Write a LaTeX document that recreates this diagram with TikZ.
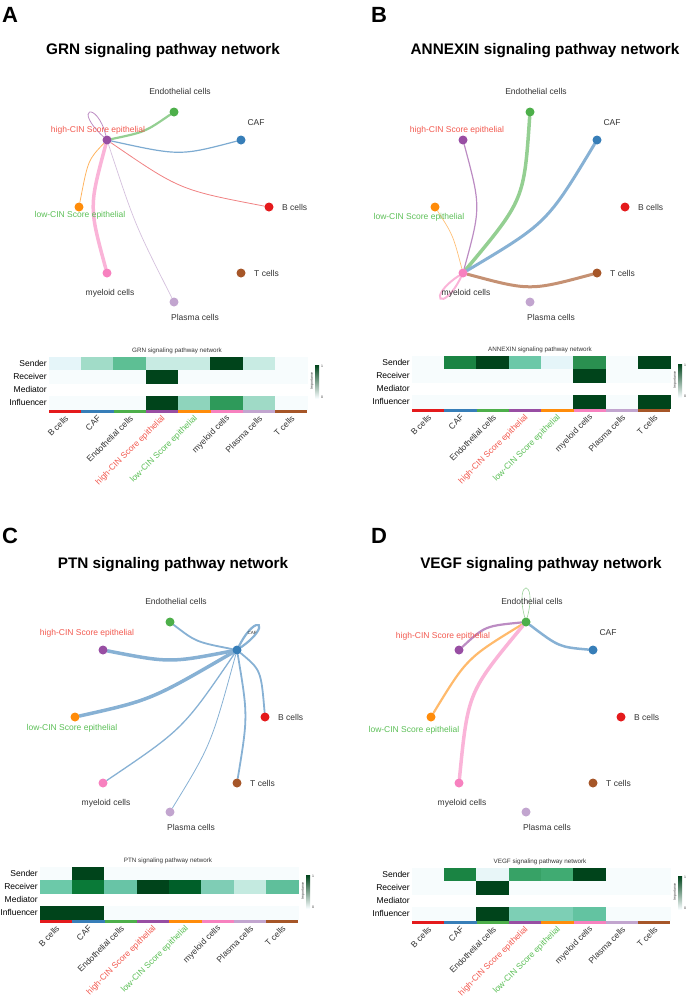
\documentclass[tikz,border=0pt]{standalone}
\usepackage{fontspec}
\setmainfont{Liberation Sans}
\usetikzlibrary{backgrounds}

% cell type colours
\definecolor{cB}{HTML}{E41A1C}
\definecolor{cCAF}{HTML}{377EB8}
\definecolor{cEndo}{HTML}{4DAF4A}
\definecolor{cHigh}{HTML}{984EA3}
\definecolor{cLow}{HTML}{FF8C0A}
\definecolor{cMye}{HTML}{F781BF}
\definecolor{cPla}{HTML}{C2A5CF}
\definecolor{cT}{HTML}{A65628}
\definecolor{hiRed}{HTML}{F2594F}
\definecolor{loGreen}{HTML}{5CBF57}
\definecolor{txt}{HTML}{333333}
% heat scale
\definecolor{g0}{HTML}{F7FCFD}
\definecolor{g4}{HTML}{66C2A4}
\definecolor{g8}{HTML}{00441B}

\tikzset{
  dot/.style={circle, inner sep=0pt, minimum size=9pt},
  lab/.style={font=\fontsize{8.5}{10}\selectfont, text=txt, inner sep=0pt},
  link/.style={line cap=round},
  panel/.style={font=\fontsize{22}{22}\selectfont\bfseries},
  ptitle/.style={font=\fontsize{15.3}{16}\selectfont\bfseries},
  hmtitle/.style={font=\fontsize{6.3}{7}\selectfont, text=txt, inner sep=0pt},
  rowlab/.style={font=\fontsize{8.5}{10}\selectfont, anchor=east, inner sep=0pt},
  ticklab/.style={font=\fontsize{8.5}{10}\selectfont, rotate=45, anchor=east, inner sep=0pt},
  hcell/.style={draw=white, line width=0.4pt},
  leg/.style={font=\fontsize{3.5}{4}\selectfont, text=txt, inner sep=0pt},
}

% the eight cell groups of one network
\newcommand{\cellnodes}[4]{%
  \node[dot, fill=cB] (#1B) at (269,207) {};
  \node[dot, fill=cCAF] (#1CAF) at (241,140) {};
  \node[dot, fill=cEndo] (#1Endo) at (174,112) {};
  \node[dot, fill=cHigh] (#1High) at (107,140) {};
  \node[dot, fill=cLow] (#1Low) at (79,207) {};
  \node[dot, fill=cMye] (#1Mye) at (107,273) {};
  \node[dot, fill=cPla] (#1Pla) at (174,302) {};
  \node[dot, fill=cT] (#1T) at (241,273) {};
  \node[lab, anchor=west] (#1BL) at (282,207) {B cells};
  \node[lab, #4] (#1CAFL) at (256,123) {CAF};
  \node[lab] (#1EndoL) at (180,91) {Endothelial cells};
  \node[lab, text=hiRed] (#1HighL) at (#2) {high-CIN Score epithelial};
  \node[lab, text=loGreen] (#1LowL) at (#3) {low-CIN Score epithelial};
  \node[lab] (#1MyeL) at (110,293) {myeloid cells};
  \node[lab] (#1PlaL) at (195,317) {Plasma cells};
  \node[lab, anchor=west] (#1TL) at (254,273) {T cells};
}

% role heatmap: prefix, title, sender, receiver, influencer
\newcommand{\heatmap}[5]{%
  \node[hmtitle] (#1title) at (128,-6) {#2};
  \foreach \c [count=\i from 0] in {#3} {
    \edef\tmp{\noexpand\definecolor{hc}{HTML}{\c}}\tmp
    \fill[hcell, hc] (\i*32.3,0) rectangle ++(32.3,13);
  }
  \foreach \c [count=\i from 0] in {#4} {
    \edef\tmp{\noexpand\definecolor{hc}{HTML}{\c}}\tmp
    \fill[hcell, hc] (\i*32.3,13) rectangle ++(32.3,13);
  }
  \foreach \c [count=\i from 0] in {#5} {
    \edef\tmp{\noexpand\definecolor{hc}{HTML}{\c}}\tmp
    \fill[hcell, hc] (\i*32.3,39) rectangle ++(32.3,13);
  }
  \node[rowlab] (#1send) at (-2,6.5) {Sender};
  \node[rowlab] (#1recv) at (-2,19.5) {Receiver};
  \node[rowlab] (#1medi) at (-2,32.5) {Mediator};
  \node[rowlab] (#1infl) at (-2,45.5) {Influencer};
  \foreach \col/\name/\tc [count=\i from 0] in {cB/B cells/txt, cCAF/CAF/txt,
      cEndo/Endothelial cells/txt, cHigh/high-CIN Score epithelial/hiRed,
      cLow/low-CIN Score epithelial/loGreen, cMye/myeloid cells/txt,
      cPla/Plasma cells/txt, cT/T cells/txt} {
    \fill[\col] (\i*32.3,52.5) rectangle ++(32.3,3.5);
    \node[ticklab, text=\tc] (#1tick\i) at (\i*32.3+18,60) {\name};
  }
  % legend
  \shade[bottom color=g0, middle color=g4, top color=g8] (266,8) rectangle (270,41);
  \node[leg, anchor=west] (#1one) at (272,9) {1};
  \node[leg, anchor=west] (#1zero) at (272,40) {0};
  \node[leg, rotate=90] (#1imp) at (263,24) {Importance};
}

\begin{document}
\begin{tikzpicture}[x=1pt, y=-1pt]
  \useasboundingbox (0,0) rectangle (694,999);

  \node[panel] (letA) at (10,15) {A};
  \node[panel] (letB) at (379,15) {B};
  \node[panel] (letC) at (10,536) {C};
  \node[panel] (letD) at (379,536) {D};
  \node[ptitle] (titA) at (163,51) {GRN signaling pathway network};
  \node[ptitle] (titB) at (545,51) {ANNEXIN signaling pathway network};
  \node[ptitle] (titC) at (173,565) {PTN signaling pathway network};
  \node[ptitle] (titD) at (541,565) {VEGF signaling pathway network};

  % A: GRN
  \begin{scope}
    \cellnodes{a}{98,130}{80,215}{}
    \begin{scope}[on background layer]
      \draw[link, cEndo!60!white, line width=2.2pt] (aEndo) .. controls (145,132) .. (aHigh);
      \draw[link, cCAF!65!white, line width=1.2pt] (aCAF) .. controls (180,156) .. (aHigh);
      \draw[link, cB!55!white, line width=0.8pt] (aB) .. controls (180,190) .. (aHigh);
      \draw[link, cLow!65!white, line width=0.8pt] (aLow) .. controls (88,160) .. (aHigh);
      \draw[link, cMye!60!white, line width=3.5pt] (aMye) .. controls (89,207) .. (aHigh);
      \draw[link, cPla!70!white, line width=0.7pt] (aPla) .. controls (135,225) .. (aHigh);
      \draw[link, cHigh!65!white, line width=0.8pt] (aHigh) .. controls (72,108) and (97,100) .. (aHigh);
    \end{scope}
  \end{scope}

  % B: ANNEXIN
  \begin{scope}[shift={(356,0)}]
    \cellnodes{b}{101,130}{63,217}{}
    \begin{scope}[on background layer]
      \draw[link, cHigh!65!white, line width=1.2pt] (bHigh) .. controls (125,207) .. (bMye);
      \draw[link, cEndo!60!white, line width=3.5pt] (bEndo) .. controls (168,200) .. (bMye);
      \draw[link, cCAF!60!white, line width=3pt] (bCAF) .. controls (191,223) .. (bMye);
      \draw[link, cLow!55!white, line width=0.7pt] (bLow) .. controls (97,235) .. (bMye);
      \draw[link, cT!65!white, line width=3pt] (bT) .. controls (174,291) .. (bMye);
      \draw[link, cMye!60!white, line width=2pt] (bMye) .. controls (69,298) and (87,314) .. (bMye);
    \end{scope}
  \end{scope}

  % C: PTN
  \begin{scope}[shift={(-4,510)}]
    \cellnodes{c}{91,123}{76,218}{font=\fontsize{4.5}{5}\selectfont}
    \begin{scope}[on background layer, every path/.style={link, cCAF!60!white}]
      \draw[line width=1.8pt] (cCAF) .. controls (200,132) .. (cEndo);
      \draw[line width=3.5pt] (cCAF) .. controls (174,153) .. (cHigh);
      \draw[line width=3.5pt] (cCAF) .. controls (155,190) .. (cLow);
      \draw[line width=1.3pt] (cCAF) .. controls (187,219) .. (cMye);
      \draw[line width=0.8pt] (cCAF) .. controls (215,235) .. (cPla);
      \draw[line width=1.8pt] (cCAF) .. controls (252,206) .. (cT);
      \draw[line width=1.8pt] (cCAF) .. controls (265,160) .. (cB);
      \draw[line width=2.2pt] (cCAF) .. controls (261,101) and (277,115) .. (cCAF);
    \end{scope}
  \end{scope}

  % D: VEGF
  \begin{scope}[shift={(352,510)}]
    \cellnodes{d}{91,126}{62,220}{}
    \begin{scope}[on background layer]
      \draw[link, cHigh!65!white, line width=2.2pt] (dHigh) .. controls (133,116) .. (dEndo);
      \draw[link, cLow!60!white, line width=2.2pt] (dLow) .. controls (115,148) .. (dEndo);
      \draw[link, cMye!60!white, line width=3.5pt] (dMye) .. controls (116,182) .. (dEndo);
      \draw[link, cCAF!60!white, line width=2.5pt] (dCAF) .. controls (207,137) .. (dEndo);
      \draw[link, cEndo!55!white, line width=0.6pt] (dEndo) .. controls (162,68) and (186,68) .. (dEndo);
    \end{scope}
  \end{scope}

  % heatmaps
  \begin{scope}[shift={(49,357)}]
    \heatmap{ha}{GRN signaling pathway network}
      {E5F5F9,A1DCC8,5DBF94,C8EBE3,C8EBE3,00441B,C8EBE3,F7FCFD}
      {F7FCFD,F7FCFD,F7FCFD,00441B,F7FCFD,F7FCFD,F7FCFD,F7FCFD}
      {F7FCFD,F7FCFD,F7FCFD,00441B,8ED4BC,2E9A5A,9FDAC6,F7FCFD}
  \end{scope}
  \begin{scope}[shift={(412,356)}]
    \heatmap{hb}{ANNEXIN signaling pathway network}
      {F7FCFD,1A8443,00441B,6CC8A8,E5F5F9,2A9050,F7FCFD,00441B}
      {F7FCFD,F7FCFD,F7FCFD,F7FCFD,F7FCFD,00441B,F7FCFD,F7FCFD}
      {F7FCFD,F7FCFD,F7FCFD,F7FCFD,F7FCFD,00441B,F7FCFD,00441B}
  \end{scope}
  \begin{scope}[shift={(40,867)}]
    \heatmap{hc}{PTN signaling pathway network}
      {F7FCFD,00441B,F7FCFD,F7FCFD,F7FCFD,F7FCFD,F7FCFD,F7FCFD}
      {6CC9A9,0A7A38,68C4A6,00441B,005F29,7FCDB5,C4EAE0,5FBF9B}
      {00441B,00441B,F7FCFD,F7FCFD,F7FCFD,F7FCFD,F7FCFD,F7FCFD}
  \end{scope}
  \begin{scope}[shift={(412,868)}]
    \heatmap{hd}{VEGF signaling pathway network}
      {F7FCFD,1A8443,E8F6F8,37A266,40AB72,00441B,F7FCFD,F7FCFD}
      {F7FCFD,F7FCFD,00441B,F7FCFD,F7FCFD,F7FCFD,F7FCFD,F7FCFD}
      {F7FCFD,F7FCFD,00441B,7DCFB5,7DCFB5,63C3A1,F7FCFD,F7FCFD}
  \end{scope}
\end{tikzpicture}
\end{document}
